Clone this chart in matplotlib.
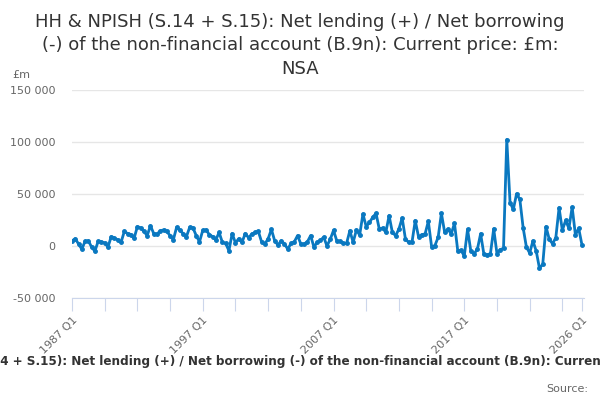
import numpy as np
import matplotlib
matplotlib.use('Agg')
import matplotlib.pyplot as plt
from matplotlib.ticker import FuncFormatter

# data, GBP million, quarterly 1987 Q1 .. 2026 Q1
quarters = ['%d Q%d' % (y, q) for y in range(1987, 2027) for q in range(1, 5)][:157]

net_lending = [
    5000, 7000, 2000, -3000,
    4500, 5000, -1000, -5000,
    4500, 4000, 3000, -1000,
    9000, 7500, 6000, 3500,
    14000, 12000, 11000, 7500,
    18600, 17500, 14000, 10000,
    19500, 12000, 11500, 14500,
    15500, 14000, 10000, 6000,
    18000, 15000, 12000, 9000,
    18000, 17500, 10000, 4000,
    15000, 15500, 11000, 9000,
    6000, 13000, 3500, 2500,
    -4500, 12000, 3000, 7000,
    3500, 12000, 8000, 11500,
    13000, 14000, 4000, 2000,
    7000, 16000, 5000, 1000,
    5000, 2000, -3000, 2500,
    4000, 10000, 2000, 2000,
    4000, 10000, -1000, 3500,
    5500, 8500, 0, 6500,
    15000, 5000, 4500, 2600,
    2600, 14700, 3500, 15400,
    10600, 30800, 18600, 22700,
    27600, 31400, 16300, 17300,
    13100, 29200, 13100, 9900,
    16300, 26900, 6700, 3500,
    3500, 24400, 9000, 10900,
    11500, 23700, -600, 300,
    8300, 31400, 13100, 16300,
    11500, 21800, -4500, -4200,
    -9600, 16000, -4800, -7400,
    -3200, 11800, -8000, -8600,
    -7400, 16600, -7400, -3500,
    -2200, 102400, 41600, 35200,
    50200, 44800, 17600, -1000,
    -6700, 4800, -4800, -21400,
    -17600, 18600, 6400, 2200,
    8000, 36800, 15000, 24600,
    17000, 37400, 10600, 17000,
    1000,
]

label_quarters = ['1987 Q1', '1997 Q1', '2007 Q1', '2017 Q1', '2026 Q1']
y_ticks = [-50000, 0, 50000, 100000, 150000]

title = ('HH & NPISH (S.14 + S.15): Net lending (+) / Net borrowing\n'
         '(-) of the non-financial account (B.9n): Current price: £m:\nNSA')
footer = ('HH & NPISH (S.14 + S.15): Net lending (+) / Net borrowing (-) of the '
          'non-financial account (B.9n): Current price: £m: NSA')

x = np.arange(len(net_lending))

fig = plt.figure(figsize=(6, 4), dpi=100)
ax = fig.add_axes([72 / 600, 1 - 298 / 400, (583.6 - 72) / 600, (298 - 90) / 400])

ax.plot(x, net_lending, color='#0a78c0', lw=2, marker='o', ms=2.5, zorder=3)

ax.set_xlim(0, 156.5)
ax.set_ylim(-50000, 150000)
ax.set_yticks(y_ticks)
ax.yaxis.set_major_formatter(FuncFormatter(lambda v, p: '{:,.0f}'.format(v).replace(',', ' ')))
ax.grid(axis='y', color='#e6e6e6', lw=1)
ax.set_axisbelow(True)

tick_pos = list(range(0, 151, 10)) + [156]
ax.set_xticks(tick_pos)
lab_pos = [quarters.index(q) for q in label_quarters]
labels = [quarters[i] if i in lab_pos else '' for i in tick_pos]
ax.set_xticklabels(labels, rotation=45, ha='right', rotation_mode='anchor',
                   fontsize=8, color='#666666')

for s in ['top', 'right', 'left']:
    ax.spines[s].set_visible(False)
ax.spines['bottom'].set_color('#ccd6eb')
ax.tick_params(axis='x', length=9, color='#ccd6eb', pad=3)
ax.tick_params(axis='y', length=0, labelsize=8, labelcolor='#666666', pad=12)

fig.text(0.5, 1 - 13 / 400, title, ha='center', va='top', fontsize=13, color='#333333',
         linespacing=1.38)
fig.text(12 / 600, 1 - 75 / 400, '£m', fontsize=8, color='#666666', va='center')
fig.text(0.5, 1 - 361 / 400, footer, ha='center', va='center', fontsize=8.65,
         fontweight='bold', color='#333333')
fig.text(588 / 600, 1 - 389 / 400, 'Source:', ha='right', va='center', fontsize=8,
         color='#666666')

fig.savefig('out.png', dpi=100)
